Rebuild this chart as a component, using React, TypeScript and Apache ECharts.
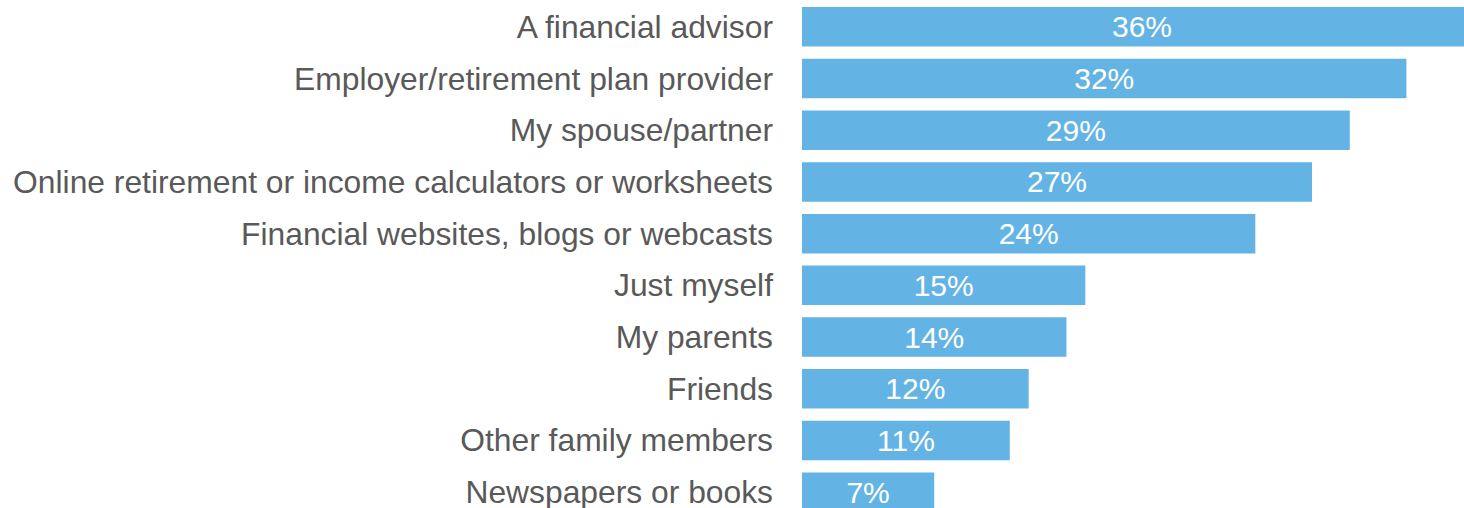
import React, { useEffect, useRef } from "react";
import * as echarts from "echarts";

const categories = [
  "A financial advisor",
  "Employer/retirement plan provider",
  "My spouse/partner",
  "Online retirement or income calculators or worksheets",
  "Financial websites, blogs or webcasts",
  "Just myself",
  "My parents",
  "Friends",
  "Other family members",
  "Newspapers or books",
];
const values = [36, 32, 29, 27, 24, 15, 14, 12, 11, 7];

export default function App() {
  const ref = useRef<HTMLDivElement>(null);
  useEffect(() => {
    if (!ref.current) return;
    const chart = echarts.init(ref.current, undefined, { renderer: "svg" });
    chart.setOption({
      animation: false,
      grid: { left: 802, right: 0, top: 1, bottom: 0, containLabel: false },
      xAxis: {
        type: "value",
        min: 0,
        max: 36,
        show: false,
      },
      yAxis: {
        type: "category",
        data: categories,
        inverse: true,
        axisLine: { show: false },
        axisTick: { show: false },
        splitLine: { show: false },
        axisLabel: {
          margin: 29,
          color: "#595959",
          fontFamily: "Liberation Sans, Arial, sans-serif",
          fontSize: 31.8,
        },
      },
      series: [
        {
          type: "bar",
          data: values,
          barWidth: 39.5,
          itemStyle: { color: "#63B4E5" },
          label: {
            show: true,
            position: "inside",
            formatter: "{c}%",
            color: "#ffffff",
            fontFamily: "Liberation Sans, Arial, sans-serif",
            fontSize: 30,
          },
        },
      ],
    });
    return () => chart.dispose();
  }, []);
  return (
    <div style={{ position: "fixed", left: 0, top: 0, width: 1464, height: 508, overflow: "hidden", background: "#fff" }}>
      <div ref={ref} style={{ width: 1482, height: 518 }} />
    </div>
  );
}
